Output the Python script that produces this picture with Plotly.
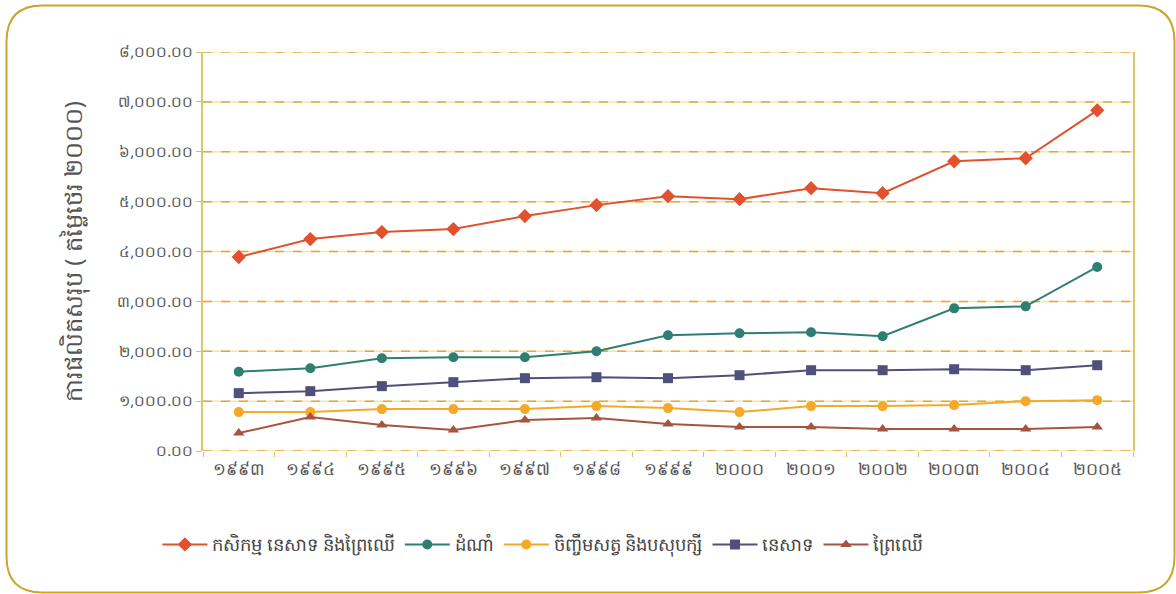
import plotly.graph_objects as go

years = ["១៩៩៣", "១៩៩៤", "១៩៩៥", "១៩៩៦", "១៩៩៧", "១៩៩៨", "១៩៩៩",
         "២០០០", "២០០១", "២០០២", "២០០៣", "២០០៤", "២០០៥"]

total = [3890, 4250, 4390, 4450, 4710, 4930, 5110, 5050, 5270, 5170, 5810, 5870, 6830]
crops = [1590, 1660, 1860, 1880, 1880, 2000, 2320, 2360, 2380, 2300, 2860, 2900, 3690]
livestock = [780, 780, 840, 840, 840, 900, 860, 780, 900, 900, 920, 1000, 1020]
fisheries = [1160, 1200, 1300, 1380, 1460, 1480, 1460, 1520, 1620, 1620, 1640, 1620, 1720]
forestry = [360, 680, 520, 420, 620, 660, 540, 480, 480, 440, 440, 440, 480]

names = ["កសិកម្ម នេសាទ និងព្រៃឈើ", "ដំណាំ", "ចិញ្ចឹមសត្វ និងបសុបក្សី", "នេសាទ", "ព្រៃឈើ"]

y_tickvals = [0, 1000, 2000, 3000, 4000, 5000, 6000, 7000, 8000]
y_ticktext = ["០.០០", "១,០០០.០០", "២,០០០.០០", "៣,០០០.០០", "៤,០០០.០០",
              "៥,០០០.០០", "៦,០០០.០០", "៧,០០០.០០", "៨,០០០.០០"]
y_title = "ការផលិតសរុប ( តម្លៃថេរ ២០០០)"

series = [
    (total, names[0], "#e2512d", "diamond", 11),
    (crops, names[1], "#2f7f70", "circle", 10),
    (livestock, names[2], "#f6a828", "circle", 10),
    (fisheries, names[3], "#50507c", "square", 10),
    (forestry, names[4], "#a4553f", "triangle-up", 10),
]

fig = go.Figure()
for vals, nm, col, sym, sz in series:
    fig.add_trace(go.Scatter(
        x=years, y=vals, name=nm, mode="lines+markers",
        line=dict(color=col, width=2),
        marker=dict(symbol=sym, size=sz, color=col),
    ))

L, R, T, B = 203, 43, 52, 143
W, H = 1176, 594
pw, ph = W - L - R, H - T - B

def px(x):
    return (x - L) / pw

def py(y):
    return (H - B - y) / ph

x0, x1, y0, y1 = 6.5, 1174.5, 5.5, 592.5
r = 36
path = (
    f"M {px(x0 + r)},{py(y0)} L {px(x1 - r)},{py(y0)} "
    f"Q {px(x1)},{py(y0)} {px(x1)},{py(y0 + r)} "
    f"L {px(x1)},{py(y1 - r)} Q {px(x1)},{py(y1)} {px(x1 - r)},{py(y1)} "
    f"L {px(x0 + r)},{py(y1)} Q {px(x0)},{py(y1)} {px(x0)},{py(y1 - r)} "
    f"L {px(x0)},{py(y0 + r)} Q {px(x0)},{py(y0)} {px(x0 + r)},{py(y0)} Z"
)
fig.add_shape(type="path", path=path, xref="paper", yref="paper",
              line=dict(color="#caa62c", width=2), layer="below")

# dashed gold gridlines at each y tick
for v in y_tickvals:
    fig.add_shape(type="line", xref="paper", yref="y", x0=0, x1=1, y0=v, y1=v,
                  line=dict(color="#f3e6a0", width=1.5), layer="below")
    fig.add_shape(type="line", xref="paper", yref="y", x0=0, x1=1, y0=v, y1=v,
                  line=dict(color="#e6a540", width=1.5, dash="dash"), layer="below")

fig.update_layout(
    template="none",
    width=W, height=H,
    margin=dict(l=L, r=R, t=T, b=B),
    paper_bgcolor="white", plot_bgcolor="white",
    font=dict(family="Noto Sans, DejaVu Sans, sans-serif", size=15, color="#555555"),
    showlegend=True,
    legend=dict(orientation="h", x=-0.049, xanchor="left", y=-0.235, yanchor="middle",
                font=dict(size=18, color="#444444"), itemwidth=45,
                bgcolor="rgba(0,0,0,0)"),
    xaxis=dict(
        type="category", range=[-0.5, 12.5],
        showgrid=False, showline=False, zeroline=False,
        ticks="outside", tickson="boundaries", ticklen=5, tickcolor="#d8c060",
        tickfont=dict(size=17, color="#555555"), ticklabelstandoff=6,
    ),
    yaxis=dict(
        range=[0, 8000], tickvals=y_tickvals, ticktext=y_ticktext,
        showgrid=False,
        zeroline=False, showline=True, linecolor="#dcc86a", linewidth=1.5, mirror=True,
        ticks="outside", ticklen=5, tickcolor="#d8c060",
        tickfont=dict(size=15, color="#555555"),
        title=dict(text=y_title, font=dict(size=24, color="#555555"), standoff=28),
    ),
)

fig.write_html("out.html", post_script="document.body.style.margin='0';",
               config={"displayModeBar": False})
